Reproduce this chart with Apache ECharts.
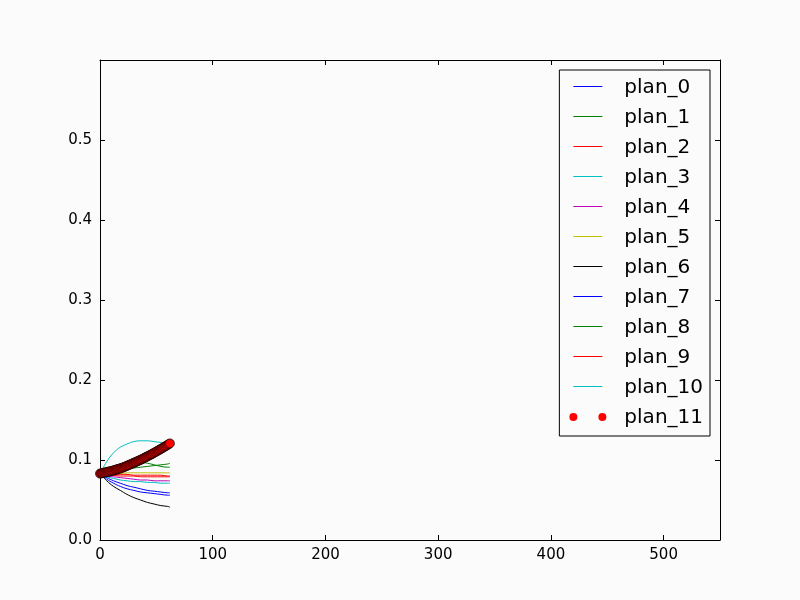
<!DOCTYPE html>
<html>
<head>
<meta charset="utf-8">
<script src="https://cdn.jsdelivr.net/npm/echarts@6/dist/echarts.min.js"></script>
<style>
html,body{margin:0;padding:0;background:#fbfbfb;}
#chart{width:800px;height:600px;}
</style>
</head>
<body>
<div id="chart"></div>
<script>
var xLine = [0, 6, 12, 18, 24, 30, 36, 42, 48, 54, 60, 62];
var plan_0 = [0.083, 0.076, 0.071, 0.067, 0.064, 0.062, 0.060, 0.059, 0.058, 0.057, 0.056, 0.056];
var plan_1 = [0.083, 0.088, 0.092, 0.095, 0.097, 0.097, 0.097, 0.096, 0.094, 0.092, 0.091, 0.091];
var plan_2 = [0.083, 0.082, 0.081, 0.080, 0.080, 0.080, 0.079, 0.079, 0.079, 0.079, 0.079, 0.079];
var plan_3 = [0.083, 0.098, 0.109, 0.116, 0.120, 0.123, 0.124, 0.124, 0.123, 0.122, 0.121, 0.121];
var plan_4 = [0.083, 0.080, 0.079, 0.078, 0.077, 0.076, 0.075, 0.075, 0.074, 0.074, 0.074, 0.074];
var plan_5 = [0.083, 0.083, 0.083, 0.083, 0.084, 0.084, 0.084, 0.084, 0.084, 0.084, 0.084, 0.084];
var plan_6 = [0.083, 0.074, 0.067, 0.062, 0.057, 0.053, 0.050, 0.047, 0.045, 0.043, 0.042, 0.041];
var plan_7 = [0.083, 0.078, 0.074, 0.071, 0.068, 0.066, 0.064, 0.062, 0.061, 0.060, 0.059, 0.059];
var plan_8 = [0.083, 0.085, 0.087, 0.088, 0.089, 0.090, 0.091, 0.092, 0.093, 0.094, 0.095, 0.096];
var plan_9 = [0.083, 0.083, 0.082, 0.082, 0.082, 0.081, 0.081, 0.081, 0.081, 0.081, 0.080, 0.080];
var plan_10 = [0.083, 0.079, 0.077, 0.075, 0.074, 0.073, 0.073, 0.072, 0.072, 0.071, 0.071, 0.071];
var xDots = [0, 1, 2, 3, 4, 5, 6, 7, 8, 9, 10, 11, 12, 13, 14, 15, 16, 17, 18, 19, 20, 21, 22, 23, 24, 25, 26, 27, 28, 29, 30, 31, 32, 33, 34, 35, 36, 37, 38, 39, 40, 41, 42, 43, 44, 45, 46, 47, 48, 49, 50, 51, 52, 53, 54, 55, 56, 57, 58, 59, 60, 61, 62];
var plan_11 = [0.0830, 0.0833, 0.0836, 0.0840, 0.0843, 0.0846, 0.0849, 0.0852, 0.0856, 0.0859, 0.0862,
  0.0866, 0.0870, 0.0874, 0.0879, 0.0883, 0.0887, 0.0891, 0.0895, 0.0900, 0.0904,
  0.0910, 0.0916, 0.0922, 0.0928, 0.0934, 0.0940,
  0.0946, 0.0952, 0.0959, 0.0965, 0.0971, 0.0977, 0.0983, 0.0990, 0.0996, 0.1002,
  0.1009, 0.1016, 0.1024, 0.1031, 0.1038, 0.1045, 0.1052, 0.1060, 0.1067, 0.1074,
  0.1082, 0.1090, 0.1098, 0.1106, 0.1114, 0.1122, 0.1130, 0.1138, 0.1146, 0.1154,
  0.1163, 0.1172, 0.1180, 0.1189, 0.1198, 0.1207];
var xTicks = [0, 100, 200, 300, 400, 500];
var yTicks = [0.0, 0.1, 0.2, 0.3, 0.4, 0.5];

var lineNames = ['plan_0','plan_1','plan_2','plan_3','plan_4','plan_5','plan_6','plan_7','plan_8','plan_9','plan_10'];
var lineData = [plan_0, plan_1, plan_2, plan_3, plan_4, plan_5, plan_6, plan_7, plan_8, plan_9, plan_10];
var lineColors = ['#0000ff','#008000','#ff0000','#00bfbf','#bf00bf','#bfbf00','#000000','#0000ff','#008000','#ff0000','#00bfbf'];

function pairs(xs, ys){ return xs.map(function(x,i){ return [x, ys[i]]; }); }

var series = lineNames.map(function(n, k){
  return {
    name: n, type: 'line', data: pairs(xLine, lineData[k]), smooth: 0.4,
    symbol: 'none', lineStyle: {color: lineColors[k], width: 1}, itemStyle: {color: lineColors[k]},
    xAxisIndex: 0, yAxisIndex: 0, animation: false, z: 2
  };
});
series.push({
  name: 'plan_11', type: 'line', data: pairs(xDots, plan_11),
  symbol: 'circle', symbolSize: 9, showSymbol: true, showAllSymbol: true,
  lineStyle: {width: 0, opacity: 0},
  itemStyle: {color: '#ff0000', borderColor: '#000000', borderWidth: 0.7},
  xAxisIndex: 0, yAxisIndex: 0, animation: false, z: 3
});

// icon box 37 x 16: line from 4 to 33, dots centred at 4 and 33
var lineIcon = 'path://M0,0 M37,16 M4,6 L33,6 L33,7 L4,7 Z';
var dotIcon = 'path://M0,0 M37,16 M0,7 a4,4 0 1,0 8,0 a4,4 0 1,0 -8,0 M29,7 a4,4 0 1,0 8,0 a4,4 0 1,0 -8,0 Z';

var legendData = lineNames.map(function(n, k){
  return {name: n, icon: lineIcon, itemStyle: {color: lineColors[k], borderWidth: 0}};
});
legendData.push({name: 'plan_11', icon: dotIcon, itemStyle: {color: '#ff0000', borderWidth: 0}});

var font = 'DejaVu Sans';
var tickStyle = {show: true, inside: true, length: 5, lineStyle: {color: '#000', width: 1}};

var option = {
  backgroundColor: '#fbfbfb',
  animation: false,
  textStyle: {fontFamily: font},
  grid: {left: 100, right: 80, top: 60, bottom: 60, show: false},
  legend: {
    orient: 'vertical', right: 90, top: 70,
    data: legendData,
    itemWidth: 37, itemHeight: 16, itemGap: 10,
    padding: [8, 7, 8, 10],
    borderColor: '#000', borderWidth: 1, borderRadius: 0,
    backgroundColor: '#fbfbfb',
    textStyle: {fontFamily: font, fontSize: 20, lineHeight: 20, color: '#000', padding: [0, 0, 0, 13]},
    selectedMode: false
  },
  xAxis: [
    {type: 'value', min: 0, max: 550, interval: 100, position: 'bottom',
     axisLine: {show: true, onZero: false, lineStyle: {color: '#000', width: 1}},
     axisTick: tickStyle, splitLine: {show: false},
     axisLabel: {fontFamily: font, fontSize: 15, color: '#000', margin: 8,
       formatter: function(v){ return xTicks.indexOf(v) >= 0 ? String(v) : ''; }}},
    {type: 'value', min: 0, max: 550, interval: 100, position: 'top',
     axisLine: {show: true, onZero: false, lineStyle: {color: '#000', width: 1}},
     axisTick: tickStyle, splitLine: {show: false}, axisLabel: {show: false}}
  ],
  yAxis: [
    {type: 'value', min: 0, max: 0.6, interval: 0.1, position: 'left',
     axisLine: {show: true, onZero: false, lineStyle: {color: '#000', width: 1}},
     axisTick: tickStyle, splitLine: {show: false},
     axisLabel: {fontFamily: font, fontSize: 15, color: '#000', margin: 8,
       formatter: function(v){
         for (var i = 0; i < yTicks.length; i++) { if (Math.abs(yTicks[i] - v) < 1e-9) return yTicks[i].toFixed(1); }
         return '';
       }}},
    {type: 'value', min: 0, max: 0.6, interval: 0.1, position: 'right',
     axisLine: {show: true, onZero: false, lineStyle: {color: '#000', width: 1}},
     axisTick: tickStyle, splitLine: {show: false}, axisLabel: {show: false}}
  ],
  series: series
};

var chart = echarts.init(document.getElementById('chart'), null, {renderer: 'canvas'});
chart.setOption(option);
</script>
</body>
</html>
